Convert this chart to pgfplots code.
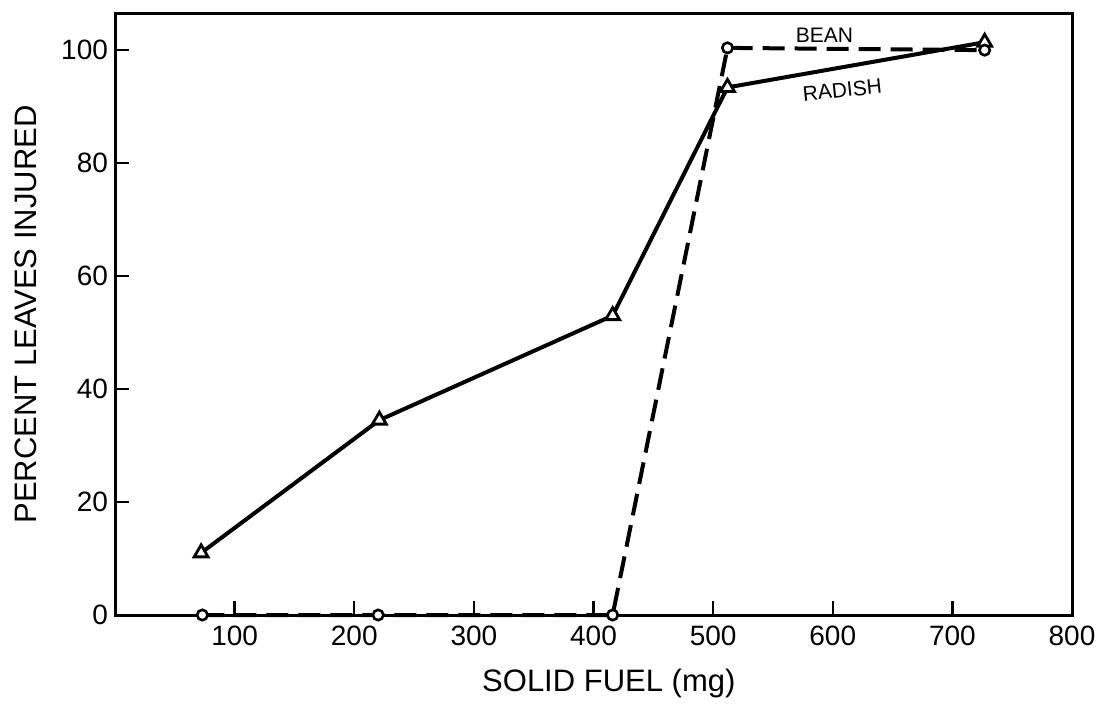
\documentclass[border=0pt]{standalone}
\usepackage{pgfplots}
\pgfplotsset{compat=1.18}
\usepackage{fontspec}
\setmainfont{Liberation Sans}
\begin{document}
\begin{tikzpicture}
\begin{axis}[
  scale only axis,
  width=478.5pt, height=300.5pt,
  xmin=0, xmax=800, ymin=0, ymax=106.4,
  xtick={100,200,...,800}, ytick={0,20,...,100},
  tick align=inside, xtick pos=bottom, ytick pos=left,
  major tick length=7pt,
  tick style={line width=1.2pt, black},
  axis line style={line width=1.5pt},
  /pgf/number format/assume math mode=true,
  /pgf/number format/set thousands separator={},
  ticklabel style={font=\fontsize{14}{16}\selectfont},
  xticklabel style={yshift=-2pt},
  label style={font=\fontsize{15.5}{18}\selectfont},
  xlabel={SOLID FUEL (mg)},
  ylabel={PERCENT LEAVES INJURED},
  xlabel style={at={(axis description cs:0.516,0)}, anchor=center, yshift=-34pt},
  ylabel style={at={(axis description cs:0,0.5)}, anchor=center, rotate=0, yshift=44.5pt},
  clip=false,
]
% radish
\addplot[line width=2pt, mark=triangle*, mark size=4pt,
  mark options={solid, fill=white, line width=1.4pt}]
  coordinates {(72,11) (221,34.5) (416,53) (512,93.4) (727,101.4)};
% bean
\addplot[line width=2pt, dash pattern=on 11pt off 5pt, mark=*, mark size=2.6pt,
  mark options={solid, fill=white, line width=1.3pt}]
  coordinates {(73,0) (220,0) (416,0) (512,100.4) (727,100)};
\node[font=\fontsize{10.5}{12}\selectfont] at (axis cs:593,102.6) {BEAN};
\node[font=\fontsize{10.5}{12}\selectfont, rotate=6] at (axis cs:608,92.9) {RADISH};
\end{axis}
% page margins as in the reference
\path ([xshift=-57.5pt, yshift=-43pt]current axis.south west)
  rectangle ([xshift=17pt, yshift=7pt]current axis.north east);
\end{tikzpicture}
\end{document}
